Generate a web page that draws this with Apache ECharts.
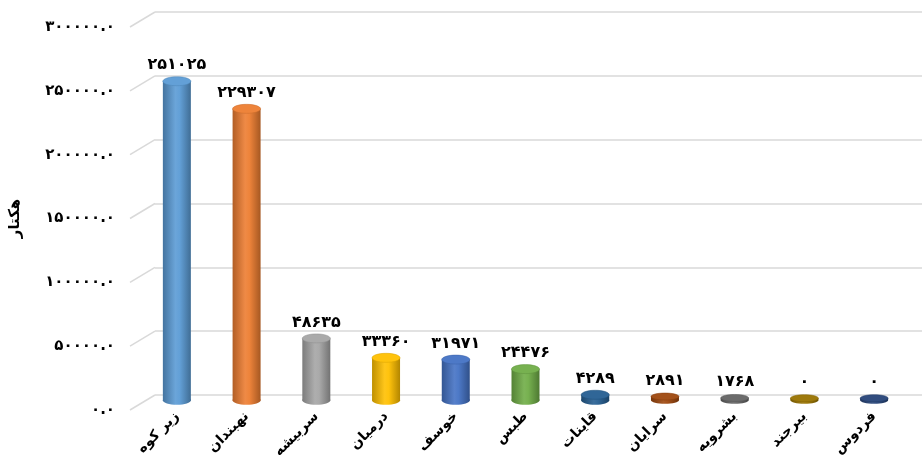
<!DOCTYPE html>
<html><head><meta charset="utf-8">
<script src="https://cdn.jsdelivr.net/npm/echarts@6/dist/echarts.min.js"></script>
<style>html,body{margin:0;padding:0;background:#fff}#c{width:922px;height:461px}</style>
</head><body><div id="c"></div>
<script>
const categories = ['زیر کوه','نهبندان','سربیشه','درمیان','خوسف','طبس','قاینات','سرایان','بشرویه','بیرجند','فردوس'];
const values = [251025, 229307, 48635, 33360, 31971, 24476, 4289, 2891, 1768, 0, 0];
const colors = ['#5B9BD5','#ED7D31','#A5A5A5','#FFC000','#4472C4','#70AD47','#255E91','#9E480E','#636363','#997300','#264478'];
const yTicks = [0, 50000, 100000, 150000, 200000, 250000, 300000];
const yName = 'هکتار';

const FONT = '"DejaVu Sans", sans-serif';
const fa = s => String(s).replace(/[0-9]/g, d => '۰۱۲۳۴۵۶۷۸۹'[d]);

function shade(hex, f) {
  const n = parseInt(hex.slice(1), 16);
  let r = (n >> 16) & 255, g = (n >> 8) & 255, b = n & 255;
  const m = c => f < 0 ? Math.round(c * (1 + f)) : Math.round(c + (255 - c) * f);
  return 'rgb(' + m(r) + ',' + m(g) + ',' + m(b) + ')';
}
function grad(c) {
  return new echarts.graphic.LinearGradient(0, 0, 1, 0, [
    {offset: 0, color: shade(c, -0.25)},
    {offset: 0.45, color: shade(c, 0.1)},
    {offset: 0.6, color: shade(c, 0.05)},
    {offset: 1, color: shade(c, -0.3)}
  ]);
}

const chart = echarts.init(document.getElementById('c'));
chart.setOption({
  animation: false,
  grid: [
    {left: 155, right: 0, top: 12, bottom: 66},
    {left: 142, right: 13, top: 19, bottom: 59},
    {left: 130, right: 25, top: 27, bottom: 51}
  ],
  xAxis: [
    {gridIndex: 0, type: 'category', data: categories, show: false},
    {gridIndex: 1, type: 'category', data: categories,
     axisLine: {show: false}, axisTick: {show: false},
     axisLabel: {rotate: 45, margin: 14, interval: 0, fontFamily: FONT, fontSize: 14, fontWeight: 'bold', color: '#000'}},
    {gridIndex: 2, type: 'category', data: categories, show: false}
  ],
  yAxis: [
    {gridIndex: 0, min: 0, max: 300000, interval: 50000, axisLabel: {show: false},
     axisLine: {show: false}, axisTick: {show: false},
     splitLine: {lineStyle: {color: '#d9d9d9', width: 1.5}}},
    {gridIndex: 1, min: 0, max: 300000, interval: 50000, show: false},
    {gridIndex: 2, min: 0, max: 300000, interval: 50000,
     axisLine: {show: false}, axisTick: {show: false}, splitLine: {show: false},
     name: yName, nameLocation: 'middle', nameRotate: 90, nameGap: 112,
     nameTextStyle: {fontFamily: FONT, fontSize: 15, fontWeight: 'bold', color: '#000'},
     axisLabel: {margin: 20, fontFamily: FONT, fontSize: 15, fontWeight: 'bold', color: '#000',
       formatter: v => fa(v) + '.' + fa(0)}}
  ],
  series: [
    {type: 'custom', xAxisIndex: 0, yAxisIndex: 0, clip: false, silent: true,
     data: yTicks.map(v => [0, v]),
     renderItem: (params, api) => {
       const y = api.coord([0, api.value(1)])[1];
       const x = params.coordSys.x;
       return {type: 'line', shape: {x1: x - 25, y1: y + 15, x2: x, y2: y},
               style: {stroke: '#d9d9d9', lineWidth: 1.5}};
     }},
    {type: 'custom', xAxisIndex: 1, yAxisIndex: 1, clip: false,
     data: values.map((v, i) => [i, v]),
     renderItem: (params, api) => {
       const i = api.value(0), v = api.value(1);
       const p = api.coord([i, v]);
       const p0 = api.coord([i, 0]);
       const w = 28;
       const c = colors[i];
       const small = p0[1] - p[1] < 4;
       const ry = small ? 3.5 : 4.5;
       const top = Math.min(p[1], p0[1] - 2);
       const bottom = p0[1];
       const g = grad(c);
       return {type: 'group', children: [
         {type: 'ellipse', shape: {cx: p[0], cy: bottom, rx: w / 2, ry: ry}, style: {fill: g}},
         {type: 'rect', shape: {x: p[0] - w / 2, y: top, width: w, height: bottom - top}, style: {fill: g}},
         {type: 'ellipse', shape: {cx: p[0], cy: top, rx: w / 2, ry: ry},
          style: {fill: shade(c, 0.05), stroke: shade(c, -0.15), lineWidth: 0.5}},
         {type: 'text', style: {text: fa(v), x: p[0], y: top - 8, align: 'center', verticalAlign: 'bottom',
           font: 'bold 16px ' + FONT, fill: '#000'}}
       ]};
     }}
  ]
});
</script></body></html>
